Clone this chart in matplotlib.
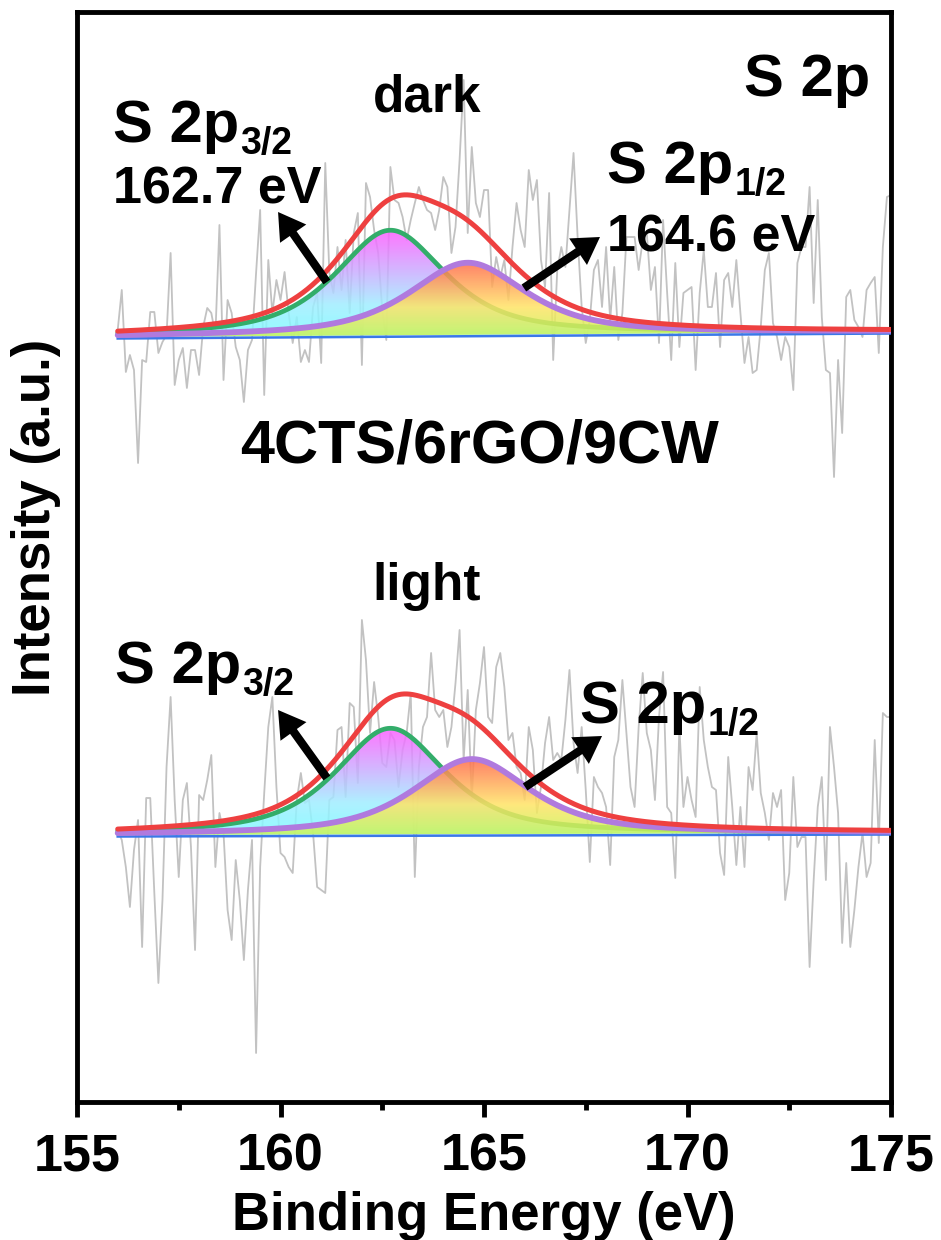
import numpy as np
import matplotlib
matplotlib.use('Agg')
import matplotlib.pyplot as plt
from matplotlib.colors import LinearSegmentedColormap

plt.rcParams['font.family'] = ['Liberation Sans', 'DejaVu Sans']
plt.rcParams['font.weight'] = 'bold'

# binding energy grid of the raw spectra (eV)
energy = np.round(np.arange(156.0, 175.05, 0.1), 1)

# raw intensity (offset from a reference level, a.u.)
dark_raw = [0, 40, -42, -25, -40, -133, -30, -32, 18, 18,
            -23, -12, -5, 77, -55, -30, -18, -58, -20, -20,
            -45, 3, 22, 17, -5, 105, -50, 30, 17, -17,
            -30, -72, -20, -10, 57, 120, -65, 70, 17, 50,
            30, 58, 17, -13, 13, -32, -20, -32, 23, 37,
            -33, 167, 57, 37, 83, 40, 90, 17, 97, 117,
            -35, 147, 133, 100, 77, 20, -10, 163, 130, 127,
            113, 90, 110, 127, 143, 130, 120, 117, 100, 120,
            153, 143, 77, 103, 170, 250, 97, 183, 127, 113,
            140, 140, 43, 73, 53, 70, 30, 83, 127, 100,
            83, 160, 130, 150, 70, 43, 137, -30, 60, 83,
            63, 120, 177, 93, 23, -13, 10, 60, 70, 23,
            83, 10, 63, -10, 17, 93, 93, 93, 60, 90,
            97, 40, 63, -13, 110, 37, -30, 67, -17, 37,
            40, 43, -40, 37, 80, 23, 23, 57, -17, 50,
            57, 23, 70, 17, -33, -7, -43, -40, 3, 60,
            77, 7, -7, -30, -7, -17, -60, 67, 83, 83,
            143, 27, 130, 13, -40, -43, -147, -30, -103, 33,
            40, 10, 3, -7, 40, 47, 53, -23, 83, 133, 135]

light_raw = [-2, -12, -39, -79, -22, 8, -119, 30, 30, -65,
             -155, -72, 61, 131, 28, -49, 28, 45, -19, -122,
             33, 28, 48, 73, -39, 15, -5, -82, -112, -32,
             -72, -132, -62, -12, -225, -39, 35, 101, 131, 41,
             -25, -29, -39, -45, 28, 55, 25, 28, -5, -59,
             -62, -65, 28, 31, 98, 101, 31, 125, 121, 45,
             208, 168, 95, 146, 111, 65, 61, 95, 88, 41,
             78, 95, 135, -49, 61, 101, 111, 175, 118, 111,
             118, 81, 101, 145, 198, 68, 138, 28, 118, 145,
             181, 111, 105, 161, 175, 141, 88, 95, 61, 55,
             28, 101, 78, 15, 41, 85, 111, 68, 75, 68,
             108, 158, 85, 55, 101, 38, -34, 51, 41, 35,
             21, -37, 71, 88, 148, 95, 41, 21, 101, 155,
             95, 78, 28, 111, 156, 21, 15, -50, 101, 21,
             51, 28, 11, 141, 88, 61, 41, 38, -25, -47,
             71, 21, -37, 21, -39, 61, 38, 95, 35, 15,
             -12, 35, 21, 38, -72, -45, 51, -19, -9, -9,
             -139, -52, 21, 51, -52, 101, 61, 15, -115, -35,
             -119, -82, -39, -5, -49, -35, 88, -15, 115, 111, 111]

dark_ref = 772
light_ref = 274

# peak fit parameters: S 2p3/2, S 2p1/2
dark_centers = [162.7, 164.6]
dark_heights = [105, 72]
light_centers = [162.7, 164.7]
light_heights = [106, 75]
peak_fwhm = [3.2, 3.4]
gl_mix = 0.7
dark_bg = (765, 770)
light_bg = (267, 269)


def pseudo_voigt(x, c, h, w):
    u = ((x - c) / (w / 2.0)) ** 2
    return h * (gl_mix / (1 + u) + (1 - gl_mix) * np.exp(-np.log(2) * u))


cm_32 = LinearSegmentedColormap.from_list('p32', [(0, '#7ffcff'), (0.3, '#a0eeff'), (1, '#ff5cff')])
cm_12 = LinearSegmentedColormap.from_list('p12', [(0, '#c8f55a'), (0.4, '#ffe466'), (1, '#ff6a4c')])


def grad_fill(ax, x, base, top, cmap, z):
    poly = ax.fill_between(x, base, top, color='none', lw=0)
    path = poly.get_paths()[0]
    img = ax.imshow(np.linspace(0, 1, 256).reshape(-1, 1), cmap=cmap, aspect='auto',
                    origin='lower', extent=[x[0], x[-1], base.min(), top.max()],
                    alpha=0.85, zorder=z, interpolation='bilinear')
    img.set_clip_path(path, transform=ax.transData)


def spectrum(ax, raw, ref, centers, heights, bg):
    ax.plot(energy, ref + np.array(raw), color='#c2c2c2', lw=1.3, zorder=1)
    xf = np.linspace(156, 175, 800)
    base = bg[0] + (bg[1] - bg[0]) * (xf - 156) / 19.0
    p1 = base + pseudo_voigt(xf, centers[0], heights[0], peak_fwhm[0])
    p2 = base + pseudo_voigt(xf, centers[1], heights[1], peak_fwhm[1])
    env = p1 + p2 - base
    grad_fill(ax, xf, base, p1, cm_32, 2)
    ax.plot(xf, p1, color='#33ad6a', lw=3.4, zorder=3, solid_capstyle='round')
    grad_fill(ax, xf, base, p2, cm_12, 4)
    ax.plot(xf, base - 1.5, color='#3a78e8', lw=1.8, zorder=5)
    ax.plot(xf, p2, color='#b07ade', lw=4.2, zorder=6, solid_capstyle='round')
    ax.plot(xf, env, color='#ee4040', lw=3.6, zorder=7, solid_capstyle='round')


fig = plt.figure(figsize=(9.41, 12.4), dpi=100)
ax = fig.add_axes([77 / 941, 138 / 1240, 814 / 941, 1090 / 1240])

spectrum(ax, dark_raw, dark_ref, dark_centers, dark_heights, dark_bg)
spectrum(ax, light_raw, light_ref, light_centers, light_heights, light_bg)

ax.set_xlim(155, 175)
ax.set_ylim(0, 1090)
ax.set_xticks(np.arange(155, 176, 5))
ax.set_xticks(np.arange(157.5, 175, 5), minor=True)
ax.set_yticks([])
ax.tick_params(axis='x', which='major', length=10.8, width=3.5, pad=11, labelsize=37.5, direction='out')
ax.tick_params(axis='x', which='minor', length=5.8, width=3.5, direction='out')
for s in ax.spines.values():
    s.set_linewidth(3.5)

fig.text(484 / 941, 1 - 1230 / 1240, 'Binding Energy (eV)', ha='center', va='baseline', size=38)
fig.text(36 / 941, 1 - 517 / 1240, 'Intensity (a.u.)', ha='center', va='center', rotation=90, size=38)

# annotations
ax.text(174.48, 1006, 'S 2p', ha='right', va='baseline', size=43, zorder=9)
ax.text(163.6, 990, 'dark', ha='center', va='baseline', size=37, zorder=9)
ax.text(163.6, 502, 'light', ha='center', va='baseline', size=37, zorder=9)
ax.text(164.88, 640, '4CTS/6rGO/9CW', ha='center', va='baseline', size=44, zorder=9)
ax.text(155.88, 899, '162.7 eV', ha='left', va='baseline', size=37.5, zorder=9)
ax.text(168.02, 850, '164.6 eV', ha='left', va='baseline', size=37.5, zorder=9)

for (x, y, sub) in [(155.88, 960, '3/2'), (168.02, 919, '1/2'),
                    (155.93, 419, '3/2'), (167.36, 379, '1/2')]:
    t = ax.text(x, y, 'S 2p', ha='left', va='baseline', size=43, zorder=9)
    ax.annotate(sub, xy=(1, 0), xycoords=t, xytext=(1.0, 0), textcoords='offset points',
                ha='left', va='baseline', size=27, zorder=9)

arrows = [((161.14, 820), (159.94, 890)), ((161.14, 324), (159.94, 392)),
          ((165.98, 814), (167.85, 865)), ((166.01, 315), (167.90, 366))]
for tail, tip in arrows:
    ax.annotate('', xy=tip, xytext=tail, zorder=8,
                arrowprops=dict(arrowstyle='simple,head_length=1.9,head_width=2.3,tail_width=0.6',
                                mutation_scale=10, fc='k', ec='none', shrinkA=0, shrinkB=0))

fig.savefig('out.png', dpi=100)
